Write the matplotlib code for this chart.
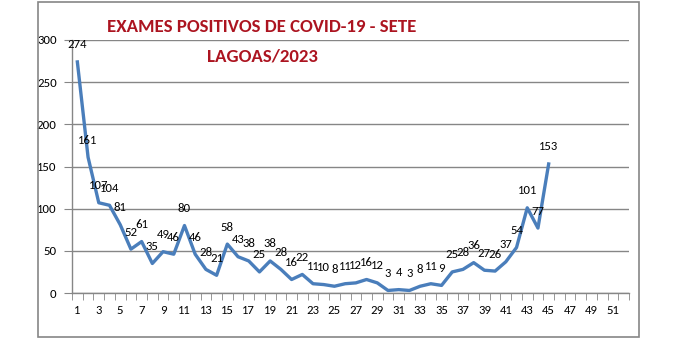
import numpy as np
import matplotlib.pyplot as plt
from matplotlib.patches import Rectangle

# Semanas epidemiologicas e exames positivos
semanas = list(range(1, 46))
positivos = [274, 161, 107, 104, 81, 52, 61, 35, 49, 46,
             80, 46, 28, 21, 58, 43, 38, 25, 38, 28,
             16, 22, 11, 10, 8, 11, 12, 16, 12, 3,
             4, 3, 8, 11, 9, 25, 28, 36, 27, 26,
             37, 54, 101, 77, 153]
total_semanas = 52
y_ticks = [0, 50, 100, 150, 200, 250, 300]

cinza = '#868686'
azul = '#4A7EBB'
fonte = ['Carlito', 'Open Sans', 'DejaVu Sans']

fig = plt.figure(figsize=(6.76, 3.5), dpi=100)
ax = fig.add_axes([72/676, 1-293/350, (629-72)/676, (293-40)/350])

# Borda da area do grafico
fig.patches.append(Rectangle((38/676, 1-337/350), (639-38)/676, (337-2)/350,
                             transform=fig.transFigure, fill=False,
                             edgecolor=cinza, linewidth=1.2))

ax.plot(semanas, positivos, color=azul, linewidth=2.4, solid_joinstyle='round')

for x, v in zip(semanas, positivos):
    ax.annotate(str(v), (x, v), xytext=(0, 17), textcoords='offset pixels',
                ha='center', va='center', fontsize=9.2, family=fonte)

ax.set_xlim(0.5, total_semanas + 0.5)
ax.set_ylim(0, 300)
ax.set_yticks(y_ticks)
ax.set_xticks(range(1, total_semanas + 1, 2))
ax.set_xticks(np.arange(0.5, total_semanas + 1, 1), minor=True)
ax.tick_params(axis='x', which='major', length=0, pad=9, labelsize=9.2)
ax.tick_params(axis='x', which='minor', length=5, direction='out', color=cinza)
ax.tick_params(axis='y', length=6, direction='out', color=cinza, labelsize=9.2, pad=5)
for lbl in ax.get_xticklabels() + ax.get_yticklabels():
    lbl.set_family(fonte)

ax.grid(axis='y', color=cinza, linewidth=1)
ax.set_axisbelow(True)
for s in ['top', 'right']:
    ax.spines[s].set_visible(False)
for s in ['left', 'bottom']:
    ax.spines[s].set_color(cinza)
    ax.spines[s].set_linewidth(1)

fig.text(262/676, 1-27/350, 'EXAMES POSITIVOS DE COVID-19 - SETE', ha='center', va='center',
         fontsize=13.6, fontweight='bold', color='#AC1420', family=fonte)
fig.text(262/676, 1-57/350, 'LAGOAS/2023', ha='center', va='center',
         fontsize=13.6, fontweight='bold', color='#AC1420', family=fonte)

fig.savefig('out.png', dpi=100)
